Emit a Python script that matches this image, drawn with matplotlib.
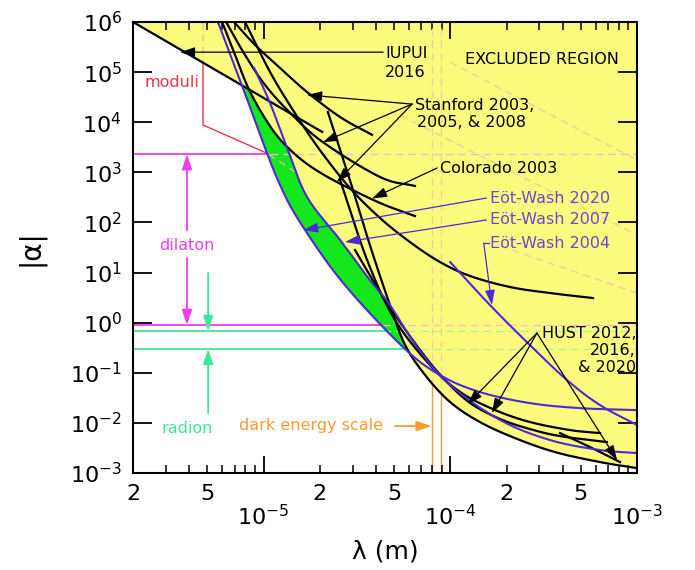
import numpy as np
import matplotlib
matplotlib.use("Agg")
import matplotlib.pyplot as plt
from matplotlib.ticker import NullLocator

# limites sur |alpha| en fonction de lambda (micrometres)
iupui_lam = [2.0, 7.76, 20.6]
iupui_alp = [1e6, 5.3e4, 6.4e3]

stanford_a_lam = [6.95, 9.0, 12.25, 17.1, 25.7, 38.1]
stanford_a_alp = [1e6, 3.5e5, 1.21e5, 4.0e4, 1.27e4, 5.6e3]
stanford_b_lam = [6.3, 7.96, 10.2, 13.9, 20.8, 42.1, 64.7]
stanford_b_alp = [1e6, 2.2e5, 5.5e4, 1.53e4, 4.0e3, 805, 533]
stanford_c_lam = [6.0, 6.95, 8.15, 9.57, 11.5, 13.9, 17.7, 24.7, 42.1, 64.7]
stanford_c_alp = [1e6, 2.5e5, 5.5e4, 1.75e4, 6.1e3, 2.8e3, 1.34e3, 640, 244, 134]

colorado_lam = [7.96, 10.84, 14.7, 20.0, 29.0, 42.1, 60.8, 88.1, 128, 209, 342, 581]
colorado_alp = [1e6, 1.0e5, 1.53e4, 2.8e3, 486, 122, 40.6, 16.2, 8.5, 5.14, 3.9, 3.10]

hust20_lam = [22.1, 29.0, 37.1, 47.5, 57.3, 73.3, 99.8, 144, 222, 364, 634, 1000]
hust20_alp = [1.6e4, 702, 35.4, 2.25, 0.357, 0.090, 0.026, 0.0104, 0.00497, 0.00261, 0.00165, 0.00125]
hust12_lam = [25.7, 36.2, 50.6, 77.8, 113, 174, 267, 438, 634]
hust12_alp = [702, 16.2, 1.13, 0.143, 0.0412, 0.0180, 0.0104, 0.00718, 0.00625]
hust16_lam = [30.9, 44.7, 68.9, 93.8, 128, 185, 267, 387, 690]
hust16_alp = [28.1, 2.83, 0.284, 0.0714, 0.0248, 0.0119, 0.00752, 0.00545, 0.00414]
hust_seg_lam = [387, 560, 811]
hust_seg_alp = [0.00625, 0.00329, 0.00165]

ew2020_lam = [5.70, 7.76, 9.82, 12.25, 15.7, 26.7, 55.8, 88.1, 144, 267, 495, 1000]
ew2020_alp = [1e6, 4.8e4, 4.4e3, 560, 100, 6.17, 0.326, 0.090, 0.0412, 0.0248, 0.0197, 0.0180]
ew2007_lam = [8.9, 10.84, 13.5, 17.1, 25.7, 37.1, 47.5, 66.4, 99.8, 185, 342, 634, 1000]
ew2007_alp = [1.21e5, 2.4e4, 2.8e3, 321, 44.6, 7.08, 2.25, 0.326, 0.0568, 0.0114, 0.00454, 0.00287, 0.00250]
ew2004_lam = [99.8, 167, 267, 422, 634, 1000]
ew2004_alp = [16.2, 2.05, 0.357, 0.0714, 0.0226, 0.00904]

# predictions theoriques
dilaton_alp = [2.3e3, 0.9]
radion_alp = [0.68, 0.30]
moduli_lam = [4.74, 4.74, 10.45, 15.7]
moduli_alp = [1e6, 8.8e3, 2.4e3, 880]
dark_energy_lam = [79.8, 89.1]
diag_lam = [[99.8, 1000], [47.5, 1000], [185, 1000]]
diag_alp = [[1.58e5, 1.76e3], [1.75e4, 56], [33.8, 3.9]]

JAUNE = "#fdfb7e"
VERT = "#14e81c"
VIOLET = "#4a2ad6"
TXT_VIOLET = "#7046d0"
MAGENTA = "#f03cf0"
RADION = "#3ee89a"
ORANGE = "#ff9a2e"
ROUGE = "#ee3344"

um = 1e-6
lam_min, lam_max = 2e-6, 1e-3

def lisse(lam, alp, n=16):
	"""Courbe de Catmull-Rom passant par les points lus (en log-log)"""
	p = np.column_stack([np.log10(np.array(lam) * um), np.log10(alp)])
	p = np.vstack([2 * p[0] - p[1], p, 2 * p[-1] - p[-2]])
	t = np.linspace(0, 1, n, endpoint=False)[:, None]
	morceaux = []
	for i in range(1, len(p) - 2):
		p0, p1, p2, p3 = p[i - 1], p[i], p[i + 1], p[i + 2]
		morceaux.append(0.5 * (2 * p1 + (-p0 + p2) * t
							   + (2 * p0 - 5 * p1 + 4 * p2 - p3) * t ** 2
							   + (-p0 + 3 * p1 - 3 * p2 + p3) * t ** 3))
	morceaux.append(p[-2][None, :])
	q = np.vstack(morceaux)
	return 10 ** q[:, 0], 10 ** q[:, 1]

fig = plt.figure(figsize=(6.95, 5.70), dpi=100)
ax = fig.add_axes([0.1914, 0.1702, 0.7252, 0.7912])
ax.set_xscale("log")
ax.set_yscale("log")
ax.set_xlim(lam_min, lam_max)
ax.set_ylim(1e-3, 1e6)

curves_black = [lisse(l, a) for l, a in [
	(iupui_lam, iupui_alp), (stanford_a_lam, stanford_a_alp),
	(stanford_b_lam, stanford_b_alp), (stanford_c_lam, stanford_c_alp),
	(colorado_lam, colorado_alp), (hust20_lam, hust20_alp),
	(hust12_lam, hust12_alp), (hust16_lam, hust16_alp),
	(hust_seg_lam, hust_seg_alp)]]
curves_blue = [lisse(l, a) for l, a in [
	(ew2020_lam, ew2020_alp), (ew2007_lam, ew2007_alp), (ew2004_lam, ew2004_alp)]]

# enveloppe de la zone exclue (interpolation en log)
grille = np.logspace(np.log10(lam_min), np.log10(lam_max), 1200)

def interp_log(x, y):
	o = np.argsort(x)
	return np.interp(np.log10(grille), np.log10(x[o]), np.log10(y[o]), left=np.nan, right=np.nan)

tous = [interp_log(x, y) for x, y in curves_black + curves_blue]
anciens = [interp_log(x, y) for x, y in curves_black + curves_blue[1:]]
plancher = np.nanmin(np.vstack(tous), axis=0)
ancien = np.nanmin(np.vstack(anciens), axis=0)

zone = ax.fill_between(grille, 10 ** plancher, 1e6, color=JAUNE, lw=0, zorder=1)
ax.fill_between(grille, 10 ** plancher, 10 ** ancien, where=ancien > plancher + 1e-6,
				interpolate=True, color=VERT, lw=0, zorder=2)
clip = zone.get_paths()[0]

def theorie(x, y, c_plein, c_tiret, lw=1.3):
	ax.plot(x, y, color=c_plein, lw=lw, zorder=0.5)
	ln, = ax.plot(x, y, color=c_tiret, lw=0.9, ls=(0, (6, 4)), zorder=2.5)
	ln.set_clip_path(clip, ax.transData)

for a in dilaton_alp:
	theorie([lam_min, lam_max], [a, a], MAGENTA, "#f6b8cf")
for a in radion_alp:
	theorie([lam_min, lam_max], [a, a], RADION, "#b2ef9c")
theorie(np.array(moduli_lam) * um, moduli_alp, ROUGE, "#f3b7a6", lw=1.0)
for l in dark_energy_lam:
	theorie([l * um, l * um], [1e-3, 1e6], ORANGE, "#f6cf98", lw=1.0)
for l, a in zip(diag_lam, diag_alp):
	ax.plot(np.array(l) * um, a, color="#f2c99e", lw=0.9, ls=(0, (6, 4)), zorder=1.5)

for x, y in curves_black:
	ax.plot(x, y, color="black", lw=1.6, zorder=4)
for x, y in curves_blue:
	ax.plot(x, y, color=VIOLET, lw=1.5, zorder=4)

# annotations
def fleche(tete, queue, couleur="black", lw=0.9):
	ax.annotate("", xy=(tete[0] * um, tete[1]), xytext=(queue[0] * um, queue[1]),
				arrowprops=dict(arrowstyle="-|>,head_length=0.9,head_width=0.3",
								color=couleur, lw=lw, shrinkA=0, shrinkB=0), zorder=5)

fs = 11.5
ax.text(44.7 * um, 2.4e5, "IUPUI", fontsize=fs, va="center", zorder=6)
ax.text(44.7 * um, 1.0e5, "2016", fontsize=fs, va="center", zorder=6)
fleche((3.57, 2.5e5), (43.7, 2.5e5))

ax.text(64.7 * um, 2.2e4, "Stanford 2003,", fontsize=fs, va="center", zorder=6)
ax.text(66.4 * um, 1.0e4, "2005, & 2008", fontsize=fs, va="center", zorder=6)
for tete in [(17.1, 3.5e4), (20.8, 4.0e3), (24.7, 640)]:
	fleche(tete, (62.4, 2.3e4))

ax.text(88.1 * um, 1.22e3, "Colorado 2003", fontsize=fs, va="center", zorder=6)
fleche((38.1, 300), (84.9, 1.22e3))

ax.text(163 * um, 307, "Eöt-Wash 2020", fontsize=fs, va="center", color=TXT_VIOLET, zorder=6)
fleche((16.3, 70), (156, 307), VIOLET)
ax.text(163 * um, 112, "Eöt-Wash 2007", fontsize=fs, va="center", color=TXT_VIOLET, zorder=6)
fleche((27.3, 40.6), (156, 112), VIOLET)
ax.text(163 * um, 38.8, "Eöt-Wash 2004", fontsize=fs, va="center", color=TXT_VIOLET, zorder=6)
ax.plot([151 * um, 161 * um], [38.8, 38.8], color=VIOLET, lw=0.9, zorder=5)
fleche((167, 2.25), (151, 38.8), VIOLET)

ax.text(310 * um, 0.62, "HUST 2012,", fontsize=fs, va="center", zorder=6)
ax.text(988 * um, 0.284, "2016,", fontsize=fs, va="center", ha="right", zorder=6)
ax.text(988 * um, 0.130, "& 2020", fontsize=fs, va="center", ha="right", zorder=6)
for tete in [(124, 0.0237), (167, 0.0157), (782, 0.00181)]:
	fleche(tete, (291, 0.62))

ax.text(310 * um, 1.75e5, "EXCLUDED REGION", fontsize=fs, ha="center", va="center", zorder=6)

ax.text(3.24 * um, 6.1e4, "moduli", fontsize=fs, ha="center", va="center", color=ROUGE)
ax.text(3.89 * um, 35.4, "dilaton", fontsize=fs, ha="center", va="center", color=MAGENTA)
fleche((3.89, 2.3e3), (3.89, 70), MAGENTA, 1.3)
fleche((3.89, 0.9), (3.89, 19.5), MAGENTA, 1.3)
ax.text(3.9 * um, 0.00787, "radion", fontsize=fs, ha="center", va="center", color=RADION)
fleche((5.05, 0.68), (5.05, 9.8), RADION, 1.3)
fleche((5.05, 0.30), (5.05, 0.0157), RADION, 1.3)
ax.text(17.9 * um, 0.00904, "dark energy scale", fontsize=fs, ha="center", va="center", color=ORANGE)
fleche((79.5, 0.00863), (50.6, 0.00863), ORANGE, 1.3)

# axes
ax.set_xticks([1e-5, 1e-4, 1e-3])
ax.set_xticklabels([r"$10^{-5}$", r"$10^{-4}$", r"$10^{-3}$"])
mineurs = [m * 10.0 ** k for k in (-6, -5, -4) for m in range(2, 10)]
mineurs = [v for v in mineurs if v >= lam_min * 0.999]
ax.set_xticks(mineurs, minor=True)
etiq = []
for v in mineurs:
	m = round(v / 10 ** np.floor(np.log10(v) + 1e-9))
	etiq.append(str(m) if m in (2, 5) else "")
ax.set_xticklabels(etiq, minor=True)
ax.set_yticks([10.0 ** k for k in range(-3, 7)])
ax.set_yticklabels([r"$10^{%d}$" % k for k in range(-3, 7)])
ax.yaxis.set_minor_locator(NullLocator())
ax.tick_params(axis="x", which="major", direction="in", length=12, width=1.3, pad=22, labelsize=16, top=True)
ax.tick_params(axis="x", which="minor", direction="in", length=6, width=1.1, pad=8, labelsize=16, top=True)
ax.tick_params(axis="y", which="major", direction="in", length=14, width=1.3, pad=8, labelsize=16, right=True)
for s in ax.spines.values():
	s.set_linewidth(1.5)
	s.set_zorder(7)

ax.set_xlabel("λ (m)", fontsize=18, labelpad=8)
ax.set_ylabel("|α|", fontsize=20, labelpad=18)

fig.savefig("out.png", dpi=100)
